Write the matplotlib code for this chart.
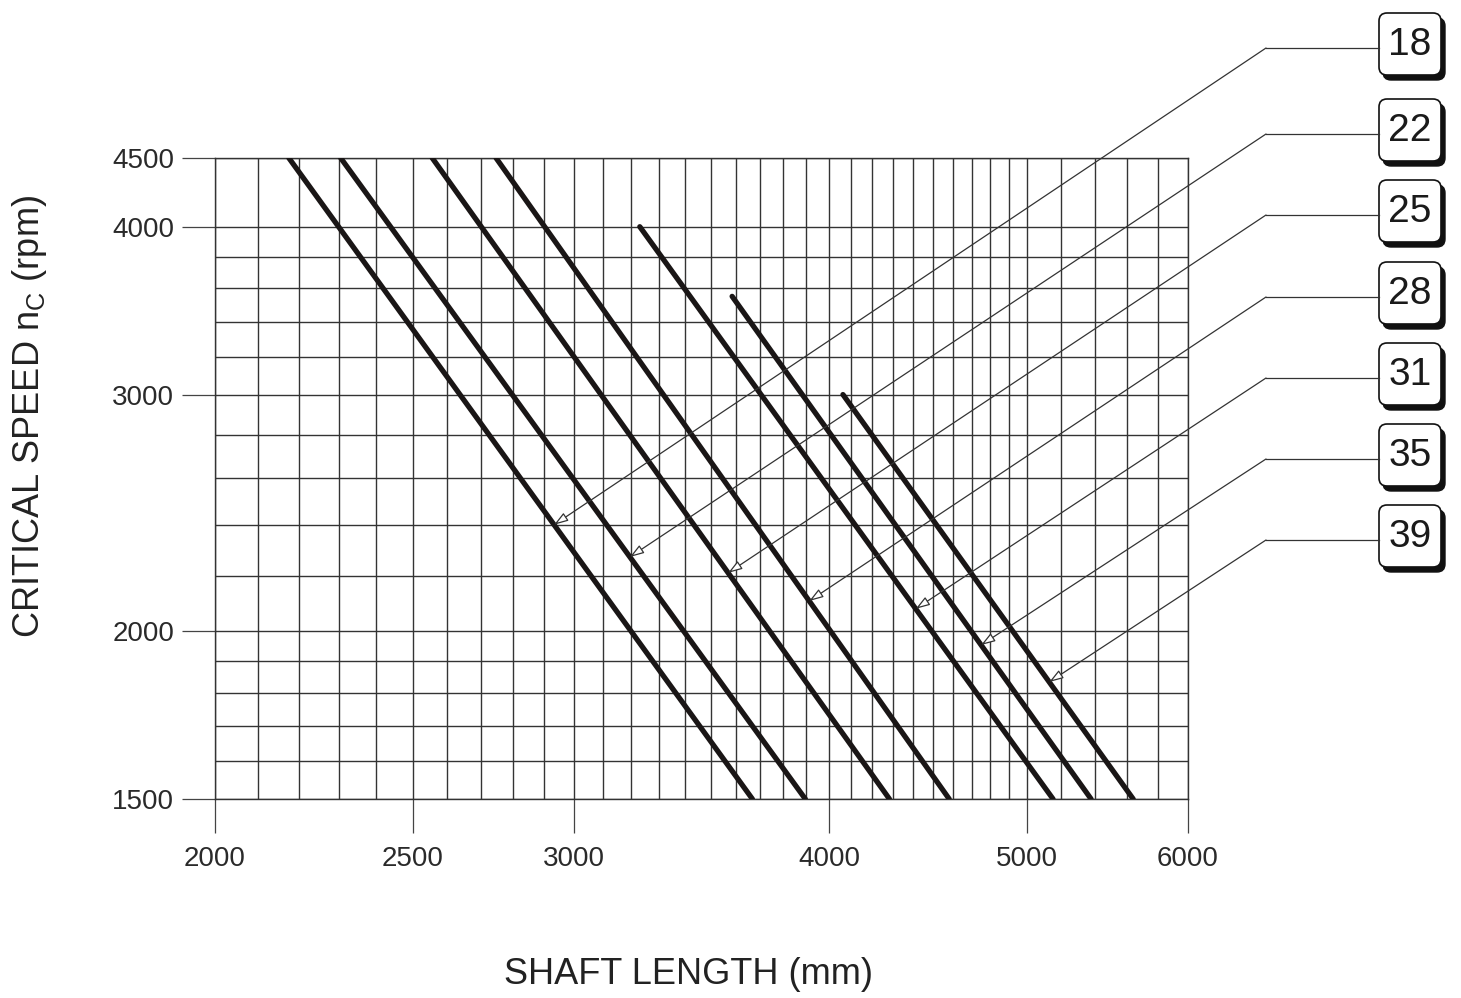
import numpy as np
import matplotlib
matplotlib.use("Agg")
import matplotlib.pyplot as plt
from matplotlib.patches import FancyBboxPatch
from matplotlib.lines import Line2D
from matplotlib.ticker import FixedLocator, FixedFormatter, NullFormatter

plt.rcParams['font.family'] = ['Liberation Sans', 'DejaVu Sans']
plt.rcParams['mathtext.default'] = 'regular'

# Datos: cada recta (tamaño) va de (x_ini, y_ini) a (x_fin, 1500)
sizes = ["18", "22", "25", "28", "31", "35", "39"]
x_start = [2174, 2305, 2556, 2747, 3231, 3586, 4064]
y_start = [4500, 4500, 4500, 4500, 4000, 3550, 3000]
x_end = [3669, 3895, 4283, 4582, 5152, 5378, 5640]
y_end = [1500, 1500, 1500, 1500, 1500, 1500, 1500]
# velocidad en la que apunta cada flecha sobre su recta
arrow_speed = [2400, 2271, 2210, 2106, 2078, 1953, 1833]

x_ticks = [2000, 2500, 3000, 4000, 5000, 6000]
y_ticks = [1500, 2000, 3000, 4000, 4500]

x_grid = list(range(2000, 5000, 100)) + list(range(5000, 6001, 200))
y_grid = list(range(1500, 2000, 100)) + list(range(2000, 4001, 200)) + [4500]

W, H = 1461, 998
fig = plt.figure(figsize=(W / 100, H / 100), dpi=100)
ax = fig.add_axes([215 / W, 1 - 799 / H, (1188 - 215) / W, (799 - 158) / H])
ax.set_xscale('log')
ax.set_yscale('log')
ax.set_xlim(2000, 6000)
ax.set_ylim(1500, 4500)

grid_col = '#333333'
for gx in x_grid:
    ax.axvline(gx, color=grid_col, lw=1.0, zorder=1)
for gy in y_grid:
    ax.axhline(gy, color=grid_col, lw=1.0, zorder=1)
for s in ax.spines.values():
    s.set_color(grid_col)
    s.set_linewidth(1.0)

ax.xaxis.set_major_locator(FixedLocator(x_ticks))
ax.xaxis.set_major_formatter(FixedFormatter([str(v) for v in x_ticks]))
ax.xaxis.set_minor_locator(FixedLocator([]))
ax.xaxis.set_minor_formatter(NullFormatter())
ax.yaxis.set_major_locator(FixedLocator(y_ticks))
ax.yaxis.set_major_formatter(FixedFormatter([str(v) for v in y_ticks]))
ax.yaxis.set_minor_locator(FixedLocator([]))
ax.yaxis.set_minor_formatter(NullFormatter())
ax.tick_params(axis='x', direction='out', length=24.5, width=0.9, color='#444444',
               pad=9, labelsize=20, labelcolor='#2a2a2a')
ax.tick_params(axis='y', direction='out', length=23.5, width=0.9, color='#444444',
               pad=6, labelsize=20, labelcolor='#2a2a2a')

# Rectas de velocidad crítica
for i in range(len(sizes)):
    ax.plot([x_start[i], x_end[i]], [y_start[i], y_end[i]], color='#1a1616',
            lw=3.8, solid_capstyle='round', zorder=3)

# Etiquetas con caja y flechas
inch = fig.dpi_scale_trans
box_y = [44, 130, 211, 293, 374, 455, 536]
for i, lab in enumerate(sizes):
    cy = box_y[i]
    # punto sobre la recta (interpolación log-log)
    ly0, ly1 = np.log10(y_start[i]), np.log10(y_end[i])
    lx0, lx1 = np.log10(x_start[i]), np.log10(x_end[i])
    t = (np.log10(arrow_speed[i]) - ly0) / (ly1 - ly0)
    xa = 10 ** (lx0 + t * (lx1 - lx0))
    ya = arrow_speed[i]

    lead_y = (H - (cy + 4)) / 100
    ax.annotate('', xy=(xa, ya), xycoords='data',
                xytext=(1266 / 100, lead_y), textcoords=inch,
                arrowprops=dict(arrowstyle='-|>,head_length=0.85,head_width=0.28',
                                fc='white', ec='#333333', lw=0.9,
                                shrinkA=0, shrinkB=0),
                zorder=4, annotation_clip=False)
    fig.add_artist(Line2D([1266 / 100, 1379 / 100], [lead_y, lead_y],
                          transform=inch, color='#333333', lw=0.9))

    bx, by, bw, bh = 1379, cy - 31, 62, 62
    shadow = FancyBboxPatch(((bx + 4) / 100, (H - by - bh - 5) / 100), bw / 100, bh / 100,
                            boxstyle='round,pad=0,rounding_size=0.08',
                            transform=inch, fc='#111111', ec='#111111', lw=1)
    box = FancyBboxPatch((bx / 100, (H - by - bh) / 100), bw / 100, bh / 100,
                         boxstyle='round,pad=0,rounding_size=0.08',
                         transform=inch, fc='white', ec='#111111', lw=1.2)
    fig.add_artist(shadow)
    fig.add_artist(box)
    fig.text((bx + bw / 2) / W, 1 - (cy + 1) / H, lab, ha='center', va='center',
             fontsize=28, color='#1a1a1a')

fig.text(688 / W, 1 - 975 / H, 'SHAFT LENGTH (mm)', ha='center', va='center',
         fontsize=26, color='#222222')
fig.text(30 / W, 1 - 417 / H, 'CRITICAL SPEED n$_\\mathregular{C}$ (rpm)',
         ha='center', va='center', rotation=90, fontsize=26, color='#222222')

fig.savefig('out.png', dpi=100)
